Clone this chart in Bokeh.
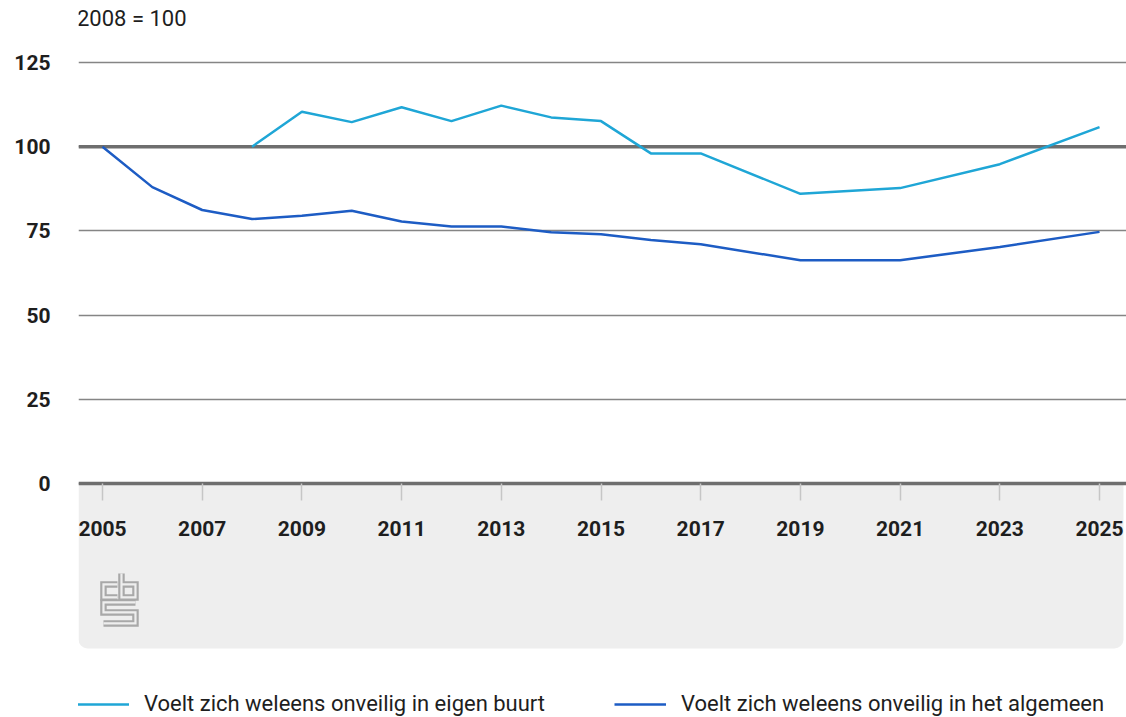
from bokeh.plotting import figure
from bokeh.models import FixedTicker, Span, BoxAnnotation, Legend, LegendItem, Range1d, Label
from bokeh.embed import file_html
from bokeh.resources import INLINE

# ---------------- data ----------------
title_text = "2005/2008 = 100"

years_buurt = [2008, 2009, 2010, 2011, 2012, 2013, 2014, 2015, 2016, 2017, 2019, 2021, 2023, 2025]
buurt = [100.0, 110.4, 107.3, 111.7, 107.6, 112.2, 108.7, 107.6, 98.0, 98.0, 86.0, 87.7, 94.8, 105.8]

years_algemeen = [2005, 2006, 2007, 2008, 2009, 2010, 2011, 2012, 2013, 2014, 2015, 2016, 2017, 2019, 2021, 2023, 2025]
algemeen = [100.0, 88.0, 81.2, 78.5, 79.5, 81.0, 77.8, 76.3, 76.3, 74.6, 74.0, 72.3, 71.0, 66.3, 66.3, 70.2, 74.7]

label_buurt = "Voelt zich weleens onveilig in eigen buurt"
label_algemeen = "Voelt zich weleens onveilig in het algemeen"

y_ticks = [0, 25, 50, 75, 100, 125]
x_ticks = list(range(2005, 2026, 2))

# ---------------- style ----------------
FONT = "Roboto"
TXT = "#1e1e1e"
C_BUURT = "#1fa6d6"
C_ALG = "#1d5cc4"
GRID = "#858585"
DARK = "#6e6e6e"
PANEL = "#eeeeee"

X0, X1 = 2004.519, 2025.541
Y0, Y1 = -69.5, 143.41

p = figure(width=1126, height=717, output_backend="svg", toolbar_location=None,
           x_range=Range1d(X0, X1), y_range=Range1d(Y0, Y1),
           min_border_left=78, min_border_right=0, min_border_top=0, min_border_bottom=0)
p.outline_line_color = None
p.background_fill_color = "white"
p.border_fill_color = "white"
p.title.visible = False

def px_x(px):
    return 2005 + (px - 102) / 49.85

def px_y(py):
    return (483 - py) / 3.368

# unit caption at the top left
p.add_layout(Label(x=px_x(18), y=px_y(18), text=title_text, text_font=FONT,
                   text_font_size="22px", text_color=TXT,
                   text_baseline="middle", text_align="left"))

# grey panel below the x axis
panel = BoxAnnotation(top=0, bottom=-49.0, right=2025.48, fill_color=PANEL, fill_alpha=1,
                      line_color=None, level="underlay", border_radius=(0, 0, 9, 9))
p.add_layout(panel)

# grid
p.xgrid.visible = False
p.ygrid.ticker = FixedTicker(ticks=y_ticks)
p.ygrid.grid_line_color = GRID
p.ygrid.grid_line_width = 1.5
p.add_layout(Span(location=100, dimension="width", line_color=DARK, line_width=3.5, level="underlay"))

# x axis at y = 0
xa = p.xaxis[0]
xa.fixed_location = 0
xa.ticker = FixedTicker(ticks=x_ticks)
xa.axis_line_color = DARK
xa.axis_line_width = 3.5
xa.major_tick_line_color = "#c6c6c6"
xa.major_tick_line_width = 1.5
xa.major_tick_in = 0
xa.major_tick_out = 17
xa.minor_tick_line_color = None
xa.major_label_standoff = 21
xa.major_label_text_font = FONT
xa.major_label_text_font_size = "21px"
xa.major_label_text_font_style = "bold"
xa.major_label_text_color = TXT

ya = p.yaxis[0]
ya.ticker = FixedTicker(ticks=y_ticks)
ya.axis_line_color = None
ya.major_tick_line_color = None
ya.minor_tick_line_color = None
ya.major_label_standoff = 22
ya.major_label_text_font = FONT
ya.major_label_text_font_size = "21px"
ya.major_label_text_font_style = "bold"
ya.major_label_text_color = TXT

# cbs logo (decoration, drawn in the grey panel)
logo_paths = [
    [(117, 584), (103, 584), (103, 597), (117, 597)],
    [(121, 573), (121, 597), (135, 597), (135, 584), (121, 584)],
    [(135, 602), (103, 602), (103, 612), (135, 612), (135, 623), (103, 623)],
]
lx = [[px_x(a) for a, b in path] for path in logo_paths]
ly = [[px_y(b) for a, b in path] for path in logo_paths]
p.multi_line(lx, ly, line_color="#a8a8a8", line_width=6.5, line_join="miter")
p.multi_line(lx, ly, line_color=PANEL, line_width=2.2, line_join="miter")

# series
r1 = p.line(years_buurt, buurt, line_color=C_BUURT, line_width=2.5)
r2 = p.line(years_algemeen, algemeen, line_color=C_ALG, line_width=2.5)

legend = Legend(items=[LegendItem(label=label_buurt, renderers=[r1]),
                       LegendItem(label=label_algemeen, renderers=[r2])],
                orientation="horizontal", location=(-1, 1),
                glyph_width=52, glyph_height=16, label_height=16, label_standoff=15,
                label_width=422, spacing=48, padding=0, margin=0,
                border_line_color=None, background_fill_alpha=0,
                label_text_font=FONT, label_text_font_size="22px", label_text_color=TXT)
p.add_layout(legend)

open("out.html", "w").write(file_html(p, INLINE))
